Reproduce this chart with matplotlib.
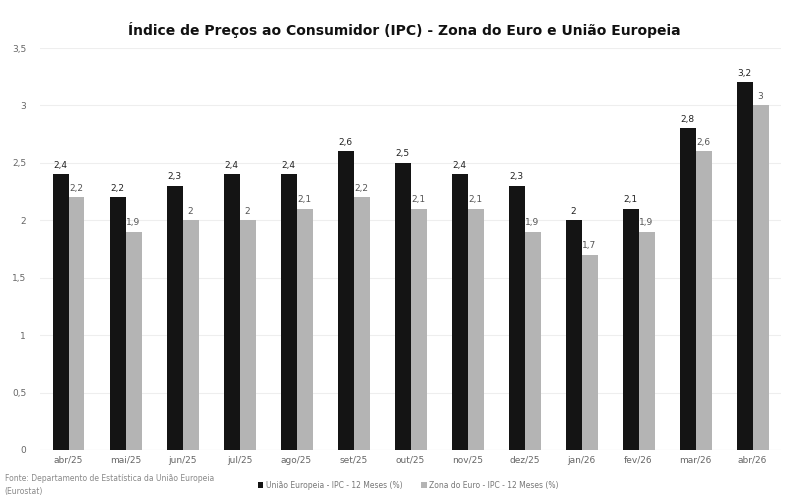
import numpy as np
import matplotlib.pyplot as plt

meses = ["abr/25", "mai/25", "jun/25", "jul/25", "ago/25", "set/25", "out/25",
         "nov/25", "dez/25", "jan/26", "fev/26", "mar/26", "abr/26"]
uniao_europeia = [2.4, 2.2, 2.3, 2.4, 2.4, 2.6, 2.5, 2.4, 2.3, 2.0, 2.1, 2.8, 3.2]
zona_euro = [2.2, 1.9, 2.0, 2.0, 2.1, 2.2, 2.1, 2.1, 1.9, 1.7, 1.9, 2.6, 3.0]


def fmt(v):
    return f"{v:g}".replace(".", ",")


fig = plt.figure(figsize=(7.85, 4.95), dpi=100)
ax = fig.add_axes([0.051, 0.091, 0.944, 0.812])

x = np.arange(len(meses))
w = 0.28
b1 = ax.bar(x - w / 2, uniao_europeia, w, color="#141414",
            label="União Europeia - IPC - 12 Meses (%)", zorder=3)
b2 = ax.bar(x + w / 2, zona_euro, w, color="#b4b4b4",
            label="Zona do Euro - IPC - 12 Meses (%)", zorder=3)

for rect, v in zip(b1, uniao_europeia):
    ax.text(rect.get_x() + rect.get_width() / 2, v + 0.04, fmt(v),
            ha="center", va="bottom", fontsize=6.5, color="#222222")
for rect, v in zip(b2, zona_euro):
    ax.text(rect.get_x() + rect.get_width() / 2, v + 0.04, fmt(v),
            ha="center", va="bottom", fontsize=6.5, color="#555555")

ax.set_xlim(-0.5, len(meses) - 0.5)
ax.set_ylim(0, 3.5)
ax.set_yticks(np.arange(0, 3.51, 0.5))
ax.set_yticklabels([fmt(t) for t in np.arange(0, 3.51, 0.5)])
ax.set_xticks(x)
ax.set_xticklabels(meses)
ax.tick_params(axis="both", length=0, labelsize=6.5, colors="#666666")
ax.tick_params(axis="x", pad=4)
ax.tick_params(axis="y", pad=10)
ax.grid(axis="y", color="#eeeeee", linewidth=0.8, zorder=0)
for s in ax.spines.values():
    s.set_visible(False)
ax.axhline(0, color="#dddddd", linewidth=0.8, zorder=1)

fig.suptitle("Índice de Preços ao Consumidor (IPC) - Zona do Euro e União Europeia",
             x=0.515, y=0.955, fontsize=10, fontweight="bold", color="#111111")

fig.text(0.006, 0.042, "Fonte: Departamento de Estatística da União Europeia\n(Eurostat)",
         fontsize=5.5, color="#888888", va="top", linespacing=1.5)
fig.legend(handles=[b1, b2], loc="center", bbox_to_anchor=(0.52, 0.02), ncol=2,
           frameon=False, fontsize=5.5, handlelength=0.7, handleheight=0.7,
           columnspacing=2.5, handletextpad=0.3, labelcolor="#777777")

fig.savefig("out.png", dpi=100)
